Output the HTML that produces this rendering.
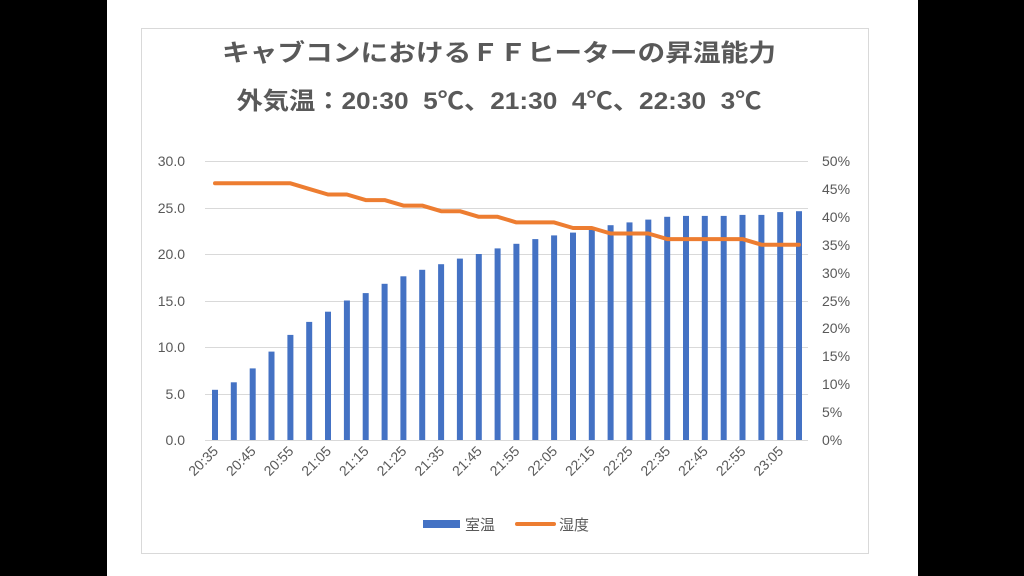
<!DOCTYPE html>
<html><head><meta charset="utf-8"><style>
html,body{margin:0;padding:0;background:#000;}
svg{display:block;}
text{font-family:"Liberation Sans","Noto Sans CJK JP",sans-serif;fill:#595959;}
</style></head><body>
<svg width="1024" height="576" viewBox="0 0 1024 576" xmlns="http://www.w3.org/2000/svg">
<rect x="0" y="0" width="1024" height="576" fill="#000"/>
<rect x="107" y="0" width="811" height="576" fill="#fff"/>
<rect x="141.5" y="28.5" width="727" height="525" fill="#fff" stroke="#d9d9d9"/>
<text x="499" y="61" text-anchor="middle" font-size="24" font-weight="bold" textLength="554" lengthAdjust="spacingAndGlyphs">キャブコンにおけるＦＦヒーターの昇温能力</text>
<text x="499" y="109" text-anchor="middle" font-size="24" font-weight="bold" textLength="525" lengthAdjust="spacingAndGlyphs">外気温：20:30&#160;&#160;5℃、21:30&#160;&#160;4℃、22:30&#160;&#160;3℃</text>
<g stroke="#d9d9d9" stroke-width="1">
<line x1="205" x2="808" y1="161.5" y2="161.5"/>
<line x1="205" x2="808" y1="208.5" y2="208.5"/>
<line x1="205" x2="808" y1="254.5" y2="254.5"/>
<line x1="205" x2="808" y1="301.5" y2="301.5"/>
<line x1="205" x2="808" y1="347.5" y2="347.5"/>
<line x1="205" x2="808" y1="394.5" y2="394.5"/>
<line x1="205" x2="808" y1="440.5" y2="440.5"/>
</g>
<g font-size="14" text-anchor="end">
<text x="185" y="166">30.0</text><text x="185" y="213">25.0</text><text x="185" y="259">20.0</text>
<text x="185" y="306">15.0</text><text x="185" y="352">10.0</text><text x="185" y="399">5.0</text><text x="185" y="445">0.0</text>
</g>
<g font-size="14">
<text x="822" y="166">50%</text><text x="822" y="194">45%</text><text x="822" y="222">40%</text>
<text x="822" y="250">35%</text><text x="822" y="278">30%</text><text x="822" y="306">25%</text>
<text x="822" y="333">20%</text><text x="822" y="361">15%</text><text x="822" y="389">10%</text>
<text x="822" y="417">5%</text><text x="822" y="445">0%</text>
</g>
<g fill="#4472c4">
<rect x="212" y="389.8" width="6" height="50.2"/>
<rect x="230.8" y="382.3" width="6" height="57.7"/>
<rect x="249.7" y="368.4" width="6" height="71.6"/>
<rect x="268.5" y="351.6" width="6" height="88.4"/>
<rect x="287.4" y="334.9" width="6" height="105.1"/>
<rect x="306.2" y="321.9" width="6" height="118.1"/>
<rect x="325" y="311.7" width="6" height="128.3"/>
<rect x="343.9" y="300.5" width="6" height="139.5"/>
<rect x="362.7" y="293.1" width="6" height="146.9"/>
<rect x="381.6" y="283.8" width="6" height="156.2"/>
<rect x="400.4" y="276.3" width="6" height="163.7"/>
<rect x="419.2" y="269.8" width="6" height="170.2"/>
<rect x="438.1" y="264.2" width="6" height="175.8"/>
<rect x="456.9" y="258.6" width="6" height="181.4"/>
<rect x="475.8" y="254" width="6" height="186"/>
<rect x="494.6" y="248.4" width="6" height="191.6"/>
<rect x="513.4" y="243.8" width="6" height="196.2"/>
<rect x="532.3" y="239.1" width="6" height="200.9"/>
<rect x="551.1" y="235.4" width="6" height="204.6"/>
<rect x="570" y="232.6" width="6" height="207.4"/>
<rect x="588.8" y="228.9" width="6" height="211.1"/>
<rect x="607.6" y="225.2" width="6" height="214.8"/>
<rect x="626.5" y="222.4" width="6" height="217.6"/>
<rect x="645.3" y="219.6" width="6" height="220.4"/>
<rect x="664.2" y="216.8" width="6" height="223.2"/>
<rect x="683" y="215.9" width="6" height="224.1"/>
<rect x="701.8" y="215.9" width="6" height="224.1"/>
<rect x="720.7" y="215.9" width="6" height="224.1"/>
<rect x="739.5" y="214.9" width="6" height="225.1"/>
<rect x="758.4" y="214.9" width="6" height="225.1"/>
<rect x="777.2" y="212.1" width="6" height="227.9"/>
<rect x="796" y="211.2" width="6" height="228.8"/>
</g>
<polyline fill="none" stroke="#ed7d31" stroke-width="4" stroke-linejoin="round" stroke-linecap="round" points="215,183.3 233.8,183.3 252.7,183.3 271.5,183.3 290.4,183.3 309.2,188.9 328,194.5 346.9,194.5 365.7,200.1 384.6,200.1 403.4,205.6 422.2,205.6 441.1,211.2 459.9,211.2 478.8,216.8 497.6,216.8 516.4,222.4 535.3,222.4 554.1,222.4 573,228 591.8,228 610.6,233.5 629.5,233.5 648.3,233.5 667.2,239.1 686,239.1 704.8,239.1 723.7,239.1 742.5,239.1 761.4,244.7 780.2,244.7 799,244.7"/>
<g font-size="14" text-anchor="end">
<text transform="translate(219,452) rotate(-45)">20:35</text>
<text transform="translate(256.7,452) rotate(-45)">20:45</text>
<text transform="translate(294.4,452) rotate(-45)">20:55</text>
<text transform="translate(332,452) rotate(-45)">21:05</text>
<text transform="translate(369.7,452) rotate(-45)">21:15</text>
<text transform="translate(407.4,452) rotate(-45)">21:25</text>
<text transform="translate(445.1,452) rotate(-45)">21:35</text>
<text transform="translate(482.8,452) rotate(-45)">21:45</text>
<text transform="translate(520.4,452) rotate(-45)">21:55</text>
<text transform="translate(558.1,452) rotate(-45)">22:05</text>
<text transform="translate(595.8,452) rotate(-45)">22:15</text>
<text transform="translate(633.5,452) rotate(-45)">22:25</text>
<text transform="translate(671.2,452) rotate(-45)">22:35</text>
<text transform="translate(708.8,452) rotate(-45)">22:45</text>
<text transform="translate(746.5,452) rotate(-45)">22:55</text>
<text transform="translate(784.2,452) rotate(-45)">23:05</text>
</g>
<rect x="423" y="520" width="37" height="8" fill="#4472c4"/>
<text x="465" y="530" font-size="15">室温</text>
<line x1="517" y1="524" x2="554" y2="524" stroke="#ed7d31" stroke-width="4" stroke-linecap="round"/>
<text x="559" y="530" font-size="15">湿度</text>
</svg>
</body></html>
